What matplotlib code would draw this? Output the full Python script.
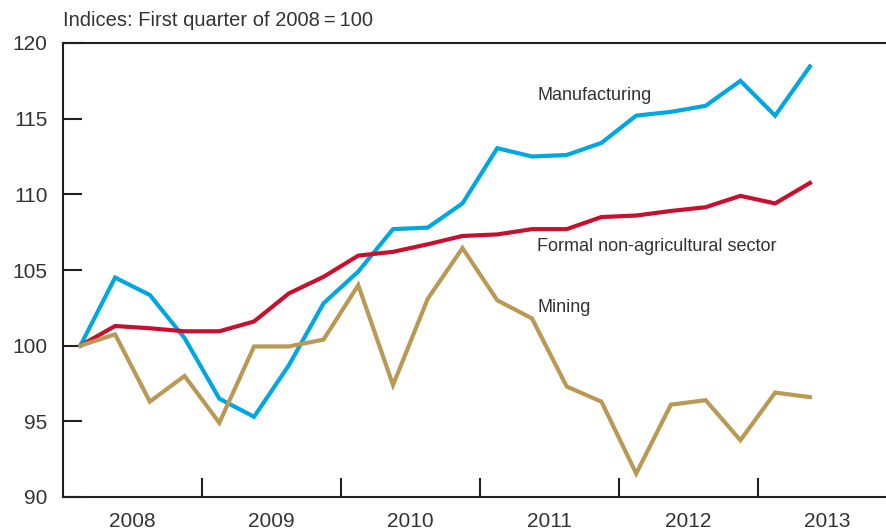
import numpy as np
import matplotlib.pyplot as plt

# Quarterly indices, 2008 Q1 - 2013 Q2 (2008 Q1 = 100)
years = ['2008', '2009', '2010', '2011', '2012', '2013']

manufacturing = [100, 104.5, 103.35, 100.5, 96.5, 95.3, 98.7, 102.8, 104.9, 107.7, 107.8,
                 109.4, 113.05, 112.5, 112.6, 113.4, 115.2, 115.45, 115.85, 117.5, 115.2, 118.45]
formal = [100, 101.3, 101.15, 100.95, 100.95, 101.6, 103.45, 104.55, 105.95, 106.2, 106.7,
          107.25, 107.35, 107.7, 107.7, 108.5, 108.6, 108.9, 109.15, 109.9, 109.4, 110.75]
mining = [100, 100.75, 96.3, 98.0, 94.9, 99.95, 99.95, 100.4, 104.0, 97.4, 103.1,
          106.45, 103.0, 101.8, 97.3, 96.3, 91.55, 96.1, 96.4, 93.75, 96.9, 96.6]

plt.rcParams['font.family'] = ['Liberation Sans', 'DejaVu Sans']
dark = '#231f20'
txt = '#333333'

fig = plt.figure(figsize=(8.87, 5.31), dpi=100)
ax = fig.add_axes([63/887, 1-497/531, 1-63/887, (497-43)/531])

q = np.arange(len(manufacturing))
ax.plot(q, manufacturing, color='#00a7e1', lw=3, solid_joinstyle='miter')
ax.plot(q, formal, color='#c8102e', lw=3, solid_joinstyle='miter')
ax.plot(q, mining, color='#b99a55', lw=3, solid_joinstyle='miter')

ax.set_xlim(-0.5, 23.22)
ax.set_ylim(90, 120)

ax.text(13.15, 116.56, 'Manufacturing', fontsize=13, color=txt, va='center')
ax.text(13.15, 106.58, 'Formal non-agricultural sector', fontsize=13, color=txt, va='center')
ax.text(13.15, 102.55, 'Mining', fontsize=13, color=txt, va='center')

ax.spines['right'].set_visible(False)
for s in ['left', 'top', 'bottom']:
    ax.spines[s].set_linewidth(1.5)
    ax.spines[s].set_color(dark)

ax.set_yticks(np.arange(90, 121, 5))
ax.tick_params(axis='y', direction='in', length=14, width=1.5, color=dark,
               labelsize=15, labelcolor=txt, pad=11)

ax.set_xticks(np.arange(3.5, 20, 4))
ax.set_xticklabels([])
ax.set_xticks(np.arange(1.5, 1.5 + 4*len(years), 4), minor=True)
ax.set_xticklabels(years, minor=True)
ax.tick_params(axis='x', which='major', direction='in', length=14, width=1.5, color=dark)
ax.tick_params(axis='x', which='minor', length=0, labelsize=15, labelcolor=txt, pad=11)

fig.text(63/887, 1-20/531, 'Indices: First quarter of 2008\u2009=\u2009100', fontsize=14.5,
         color=txt, va='center', ha='left')

fig.savefig('out.png', dpi=100)
